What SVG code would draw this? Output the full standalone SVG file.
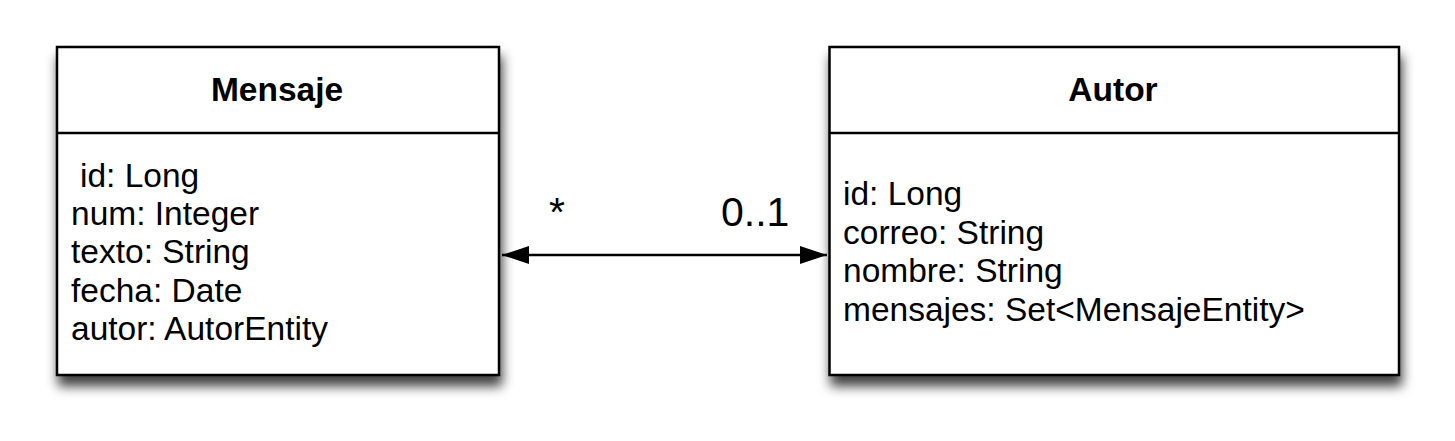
<svg xmlns="http://www.w3.org/2000/svg" width="1455" height="441" viewBox="0 0 1455 441">
  <defs>
    <filter id="shadow" x="-10%" y="-10%" width="120%" height="135%">
      <feDropShadow dx="2" dy="10" stdDeviation="6" flood-color="#000" flood-opacity="0.75"/>
    </filter>
    <marker id="arr" viewBox="0 0 27 18" refX="27" refY="9" markerWidth="27" markerHeight="18" markerUnits="userSpaceOnUse" orient="auto-start-reverse">
      <path d="M0,0 L27,9 L0,18 z" fill="#000"/>
    </marker>
  </defs>
  <style>
    .box { fill: #fff; stroke: #000; stroke-width: 2.5; }
    .div { stroke: #000; stroke-width: 2.5; fill: none; }
    .title { font-family: "Liberation Sans", Arial, Helvetica, sans-serif; font-size: 33.5px; font-weight: bold; fill: #000; text-anchor: middle; }
    .attr { font-family: "Liberation Sans", Arial, Helvetica, sans-serif; font-size: 33.5px; fill: #000; }
    .mult { font-family: "Liberation Sans", Arial, Helvetica, sans-serif; font-size: 41px; fill: #000; }
    .conn { stroke: #000; stroke-width: 2.5; fill: none; }
  </style>
  <rect width="1455" height="441" fill="#fff"/>

  <g id="mensaje">
    <rect class="box" x="57" y="47" width="442" height="328" filter="url(#shadow)"/>
    <line class="div" x1="57" y1="133" x2="499" y2="133"/>
    <text class="title" x="277" y="101">Mensaje</text>
    <text class="attr" x="80" y="187">id: Long</text>
    <text class="attr" x="71" y="225">num: Integer</text>
    <text class="attr" x="71" y="263">texto: String</text>
    <text class="attr" x="71" y="302">fecha: Date</text>
    <text class="attr" x="71" y="340">autor: AutorEntity</text>
  </g>

  <g id="autor">
    <rect class="box" x="829.5" y="47" width="569.5" height="328" filter="url(#shadow)"/>
    <line class="div" x1="829.5" y1="133" x2="1399" y2="133"/>
    <text class="title" x="1113" y="101">Autor</text>
    <text class="attr" x="843" y="205">id: Long</text>
    <text class="attr" x="843" y="244">correo: String</text>
    <text class="attr" x="843" y="282">nombre: String</text>
    <text class="attr" x="843" y="321">mensajes: Set&lt;MensajeEntity&gt;</text>
  </g>

  <g id="connectors">
    <line class="conn" x1="502" y1="255" x2="827" y2="255" marker-start="url(#arr)" marker-end="url(#arr)"/>
    <text class="mult" x="549" y="226">*</text>
    <text class="mult" x="721" y="226">0..1</text>
  </g>
</svg>
